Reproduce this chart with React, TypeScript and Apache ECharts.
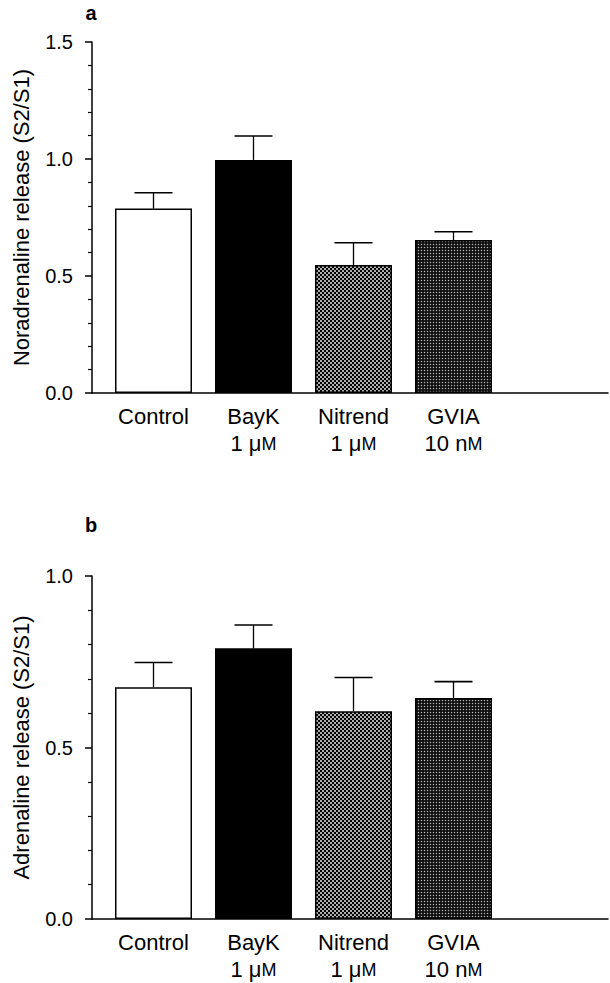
import React, { useEffect, useRef } from "react";
import * as echarts from "echarts";

const CATEGORIES = ["Control", "BayK", "Nitrend", "GVIA"];
const DOSES = ["", "1 μ", "1 μ", "10 n"];
const DOSE_UNIT = "M";
const X_POS = [1, 2, 3, 4];

const NA_MEAN = [0.788, 0.996, 0.547, 0.654];
const NA_SEM = [0.068, 0.102, 0.095, 0.035];
const AD_MEAN = [0.676, 0.789, 0.606, 0.644];
const AD_SEM = [0.072, 0.068, 0.098, 0.048];

const NA_TITLE = "Noradrenaline release (S2/S1)";
const AD_TITLE = "Adrenaline release (S2/S1)";
const NA_MAX = 1.5;
const AD_MAX = 1.0;
const PANEL_LABELS = ["a", "b"];

const FONT = "'Liberation Sans', Arial, Helvetica, sans-serif";

function makePattern(size: number, draw: (ctx: CanvasRenderingContext2D) => void) {
  const scale = 8;
  const c = document.createElement("canvas");
  c.width = size * scale;
  c.height = size * scale;
  const ctx = c.getContext("2d") as CanvasRenderingContext2D;
  ctx.scale(scale, scale);
  draw(ctx);
  return { image: c, repeat: "repeat", imageWidth: size, imageHeight: size } as any;
}

export default function App() {
  const ref = useRef<HTMLDivElement>(null);
  useEffect(() => {
    if (!ref.current) return;
    const chart = echarts.init(ref.current, null, { renderer: "svg" });

    const checker = makePattern(4, (ctx) => {
      ctx.fillStyle = "#000";
      ctx.fillRect(0, 0, 4, 4);
      ctx.fillStyle = "#fff";
      for (const [cx, cy] of [[1, 1], [3, 3]]) {
        ctx.beginPath();
        ctx.arc(cx, cy, 0.95, 0, Math.PI * 2);
        ctx.fill();
      }
    });
    const stipple = makePattern(3, (ctx) => {
      ctx.fillStyle = "#111";
      ctx.fillRect(0, 0, 3, 3);
      ctx.fillStyle = "#b8b8b8";
      ctx.beginPath();
      ctx.arc(1.5, 1.5, 0.7, 0, Math.PI * 2);
      ctx.fill();
    });
    const fills = ["#ffffff", "#000000", checker, stipple];

    const grids = [
      { left: 92, top: 42, width: 516, height: 351 },
      { left: 92, top: 576, width: 516, height: 350 },
    ];

    const xAxisBase = (gridIndex: number) => ({
      type: "value",
      gridIndex,
      min: 0.385,
      max: 5.545,
      splitLine: { show: false },
      axisTick: { show: false },
      axisLine: { show: true, onZero: false, lineStyle: { color: "#000", width: 1.5 } },
      axisLabel: {
        customValues: X_POS,
        margin: 10,
        color: "#000",
        fontFamily: FONT,
        fontSize: 22,
        lineHeight: 27,
        formatter: (v: number) => {
          const i = X_POS.indexOf(Math.round(v));
          if (i < 0) return "";
          return DOSES[i] ? `${CATEGORIES[i]}\n{d|${DOSES[i]}}{m|${DOSE_UNIT}}` : CATEGORIES[i];
        },
        rich: {
          d: { fontFamily: FONT, fontSize: 22, lineHeight: 27, color: "#000" },
          m: { fontFamily: FONT, fontSize: 18, lineHeight: 27, color: "#000" },
        },
      },
    });

    const yAxisBase = (gridIndex: number, max: number, name: string) => ({
      type: "value",
      gridIndex,
      min: 0,
      max,
      interval: 0.5,
      name,
      nameLocation: "middle",
      nameRotate: 90,
      nameGap: 60,
      nameTextStyle: { fontFamily: FONT, fontSize: 22, color: "#000" },
      splitLine: { show: false },
      axisLine: { show: true, lineStyle: { color: "#000", width: 1.5 } },
      axisTick: { show: true, length: 7, lineStyle: { color: "#000", width: 1.5 } },
      minorTick: { show: true, splitNumber: 5, length: 4, lineStyle: { color: "#000", width: 1.2 } },
      axisLabel: {
        margin: 19,
        color: "#000",
        fontFamily: FONT,
        fontSize: 20,
        formatter: (v: number) => v.toFixed(1),
      },
    });

    const barSeries = (idx: number, means: number[]) => ({
      type: "bar",
      xAxisIndex: idx,
      yAxisIndex: idx,
      barWidth: 77,
      z: 2,
      data: means.map((m, i) => ({
        value: [X_POS[i], m],
        itemStyle: { color: fills[i], borderColor: "#000", borderWidth: 1.5 },
      })),
    });

    const errSeries = (idx: number, means: number[], sems: number[]) => ({
      type: "custom",
      xAxisIndex: idx,
      yAxisIndex: idx,
      z: 3,
      data: means.map((m, i) => [X_POS[i], m, m + sems[i]]),
      renderItem: (params: any, api: any) => {
        const x = api.value(0);
        const base = api.coord([x, api.value(1)]);
        const top = api.coord([x, api.value(2)]);
        const hw = 19;
        return {
          type: "group",
          children: [
            {
              type: "line",
              shape: { x1: base[0], y1: base[1], x2: top[0], y2: top[1] },
              style: { stroke: "#000", lineWidth: 1.3 },
            },
            {
              type: "line",
              shape: { x1: top[0] - hw, y1: top[1], x2: top[0] + hw, y2: top[1] },
              style: { stroke: "#000", lineWidth: 1.6 },
            },
          ],
        };
      },
    });

    chart.setOption({
      animation: false,
      backgroundColor: "#fff",
      grid: grids,
      xAxis: [xAxisBase(0), xAxisBase(1)],
      yAxis: [yAxisBase(0, NA_MAX, NA_TITLE), yAxisBase(1, AD_MAX, AD_TITLE)],
      series: [
        barSeries(0, NA_MEAN),
        errSeries(0, NA_MEAN, NA_SEM),
        barSeries(1, AD_MEAN),
        errSeries(1, AD_MEAN, AD_SEM),
      ],
      graphic: [
        {
          type: "text",
          x: 91,
          y: 23,
          style: { text: PANEL_LABELS[0], font: `bold 20px ${FONT}`, fill: "#000", textAlign: "center", textVerticalAlign: "bottom" },
        },
        {
          type: "text",
          x: 91,
          y: 535,
          style: { text: PANEL_LABELS[1], font: `bold 20px ${FONT}`, fill: "#000", textAlign: "center", textVerticalAlign: "bottom" },
        },
      ],
    } as any);

    return () => chart.dispose();
  }, []);

  return (
    <div
      ref={ref}
      style={{ position: "fixed", left: 0, top: 0, width: 610, height: 983, background: "#fff" }}
    />
  );
}
